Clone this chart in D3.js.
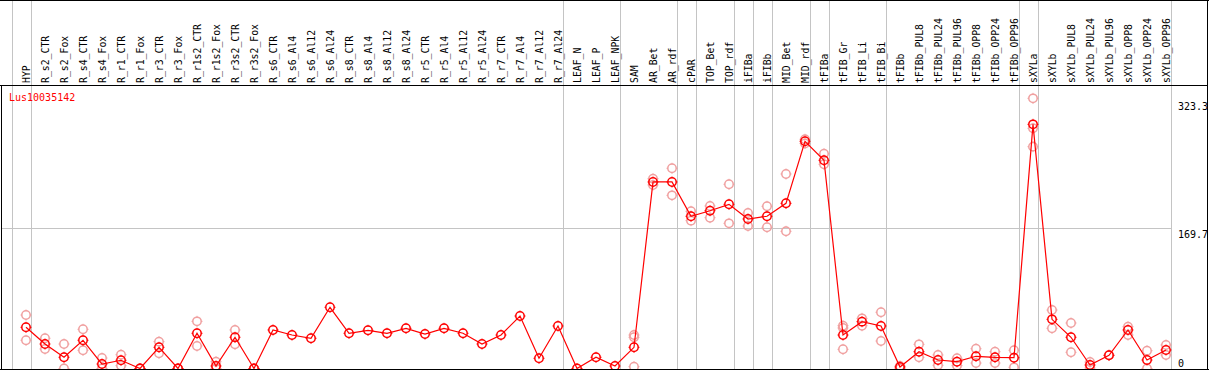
<!DOCTYPE html>
<html><head><meta charset="utf-8">
<script src="https://cdn.jsdelivr.net/npm/d3@7"></script>
<style>body{margin:0;background:#fff}svg{display:block}</style>
</head><body>
<svg id="c" width="1209" height="370"></svg>
<script>
const categories = ["HYP","R_s2_CTR","R_s2_Fox","R_s4_CTR","R_s4_Fox","R_r1_CTR","R_r1_Fox","R_r3_CTR","R_r3_Fox","R_r1s2_CTR","R_r1s2_Fox","R_r3s2_CTR","R_r3s2_Fox","R_s6_CTR","R_s6_Al4","R_s6_Al12","R_s6_Al24","R_s8_CTR","R_s8_Al4","R_s8_Al12","R_s8_Al24","R_r5_CTR","R_r5_Al4","R_r5_Al12","R_r5_Al24","R_r7_CTR","R_r7_Al4","R_r7_Al12","R_r7_Al24","LEAF_N","LEAF_P","LEAF_NPK","SAM","AR_Bet","AR_rdf","cPAR","TOP_Bet","TOP_rdf","iFIBa","iFIBb","MID_Bet","MID_rdf","tFIBa","tFIB_Gr","tFIB_Li","tFIB_Bi","tFIBb","tFIBb_PUL8","tFIBb_PUL24","tFIBb_PUL96","tFIBb_OPP8","tFIBb_OPP24","tFIBb_OPP96","sXYLa","sXYLb","sXYLb_PUL8","sXYLb_PUL24","sXYLb_PUL96","sXYLb_OPP8","sXYLb_OPP24","sXYLb_OPP96"];

const meanValues = [49.6,29.5,13.5,34.0,5.4,9.9,0,25.5,0,42.4,3.0,37.6,0,46.4,40.3,36.4,73.7,42.4,46.0,42.4,48.4,41.5,48.4,42.4,29.5,40.3,63.2,12.3,51.2,0,13.5,3.0,25.5,224.6,224.6,183.3,190.0,197.7,180.0,183.3,198.9,273.6,250.7,40.3,56.4,51.2,1.8,20.2,10.2,8.2,14.7,13.5,13.0,294.0,59.2,37.6,4.2,15.9,46.4,10.2,22.3];

const replicateValues = [
  [64.4,34.0],[36.4,23.5],[29.5,0],[47.2,21.9],[12.6,0],[16.6,3.4],[0,0],[32.3,18.3],[0,0],[56.8,27.1],[8.2,0],[46.4,29.1],[0,0],
  [],[],[],[],[],[],[],[],[],[],[],[],[],[],[],[],[],[],[],
  [40.3,37.6,2.2],[228.5,221.0],[241.1,208.5],[189.3,178.0],[195.7,181.6],[221.8,174.8],[187.2,171.6],[195.3,170.0],[234.2,165.2],[271.0,276.0],[258.6,245.9],
  [51.5,48.8,23.1],[60.4,51.5],[67.7,33.1],[0,3.0],[29.1,13.5],[16.3,3.9],[12.3,3.4],[23.8,6.6],[20.2,6.6],[21.9,1.4],
  [325.3,289.2,267.1],[70.4,48.4],[54.8,19.5],[7.8,0.6],[15.9],[50.3,40.3],[21.4,0],[28.3,16.3]
];

const groupEnds = ["HYP","R_r7_Al24","LEAF_NPK","AR_rdf","cPAR","TOP_rdf","iFIBa","iFIBb","MID_rdf","tFIBa","tFIB_Bi","tFIBb_OPP96","sXYLa","sXYLb_OPP96"];
const tickValues = [323.3, 169.7, 0];
const tickLabels = ["323.3", "169.7", "0"];
const gridValues = [169.7];
const geneName = "Lus10035142";

const svg = d3.select("#c");
const x = d3.scaleBand().domain(categories).range([16.5, 16.5 + 19*categories.length]).padding(0);
const cx = c => x(c) + x.bandwidth()/2;
const y = d3.scaleLinear().domain([0, 323.3]).range([368.5, 100]);
const mono = "'DejaVu Sans Mono', 'Liberation Mono', monospace";

svg.append("defs").append("clipPath").attr("id","clip")
  .append("rect").attr("x",1).attr("y",86).attr("width",1206).attr("height",283);

// vertical group lines
const vx = [x(categories[0]) - 5].concat(groupEnds.map(c => x(c) + 14));
svg.append("g").selectAll("line").data(vx).join("line")
  .attr("x1", d => Math.round(d)+0.5).attr("x2", d => Math.round(d)+0.5)
  .attr("y1", 0).attr("y2", 369)
  .attr("stroke", "#c4c4c4").attr("stroke-width", 1);

// horizontal grid
svg.append("g").selectAll("line").data(gridValues).join("line")
  .attr("x1", 1).attr("x2", 1172)
  .attr("y1", d => Math.round(y(d))+0.5).attr("y2", d => Math.round(y(d))+0.5)
  .attr("stroke", "#c4c4c4").attr("stroke-width", 1);

// frame
const frame = svg.append("g").attr("stroke","#000").attr("stroke-width",1);
frame.append("line").attr("x1",0).attr("x2",1209).attr("y1",0.5).attr("y2",0.5);
frame.append("line").attr("x1",0).attr("x2",1208).attr("y1",85.5).attr("y2",85.5);
frame.append("line").attr("x1",1.5).attr("x2",1.5).attr("y1",85).attr("y2",370);
frame.append("line").attr("x1",1207.5).attr("x2",1207.5).attr("y1",0).attr("y2",370);
frame.append("line").attr("x1",0).attr("x2",1209).attr("y1",369.5).attr("y2",369.5);

// column labels
svg.append("g").selectAll("text").data(categories).join("text")
  .attr("transform", d => `translate(${cx(d)+3.5},83) rotate(-90)`)
  .attr("font-family", mono).attr("font-size", "9.8px").attr("fill", "#000")
  .text(d => d);

// y labels
svg.append("g").selectAll("text").data(tickValues).join("text")
  .attr("x", 1178)
  .attr("y", (d,i) => d === 0 ? 367 : y(d) + 10)
  .attr("font-family", mono).attr("font-size", "10px").attr("fill", "#000")
  .text((d,i) => tickLabels[i]);

// gene name
svg.append("text").attr("x", 9).attr("y", 101)
  .attr("font-family", mono).attr("font-size", "10px").attr("fill", "#ff0000")
  .text(geneName);

const plot = svg.append("g").attr("clip-path", "url(#clip)");

function marker(g, px, py, color) {
  const m = g.append("g").attr("transform", `translate(${px},${py})`)
    .attr("stroke", color).attr("fill", "none");
  m.append("circle").attr("r", 4.2).attr("stroke-width", 1.5);
  [[0,-4,0,-5.5],[0,4,0,5.5],[-4,0,-5.5,0],[4,0,5.5,0]].forEach(t =>
    m.append("line").attr("x1",t[0]).attr("y1",t[1]).attr("x2",t[2]).attr("y2",t[3]).attr("stroke-width",1));
}

// replicates
const reps = [];
categories.forEach((c,i) => replicateValues[i].forEach(v => reps.push({c, v})));
reps.forEach(r => marker(plot, cx(r.c), y(r.v), "#f0a0a0"));

// mean line
const line = d3.line().x((d,i) => cx(categories[i])).y(d => y(d));
plot.append("path").datum(meanValues).attr("d", line)
  .attr("fill","none").attr("stroke","#ff0000").attr("stroke-width",1.2);

meanValues.forEach((v,i) => marker(plot, cx(categories[i]), y(v), "#ff0000"));
</script>
</body></html>
